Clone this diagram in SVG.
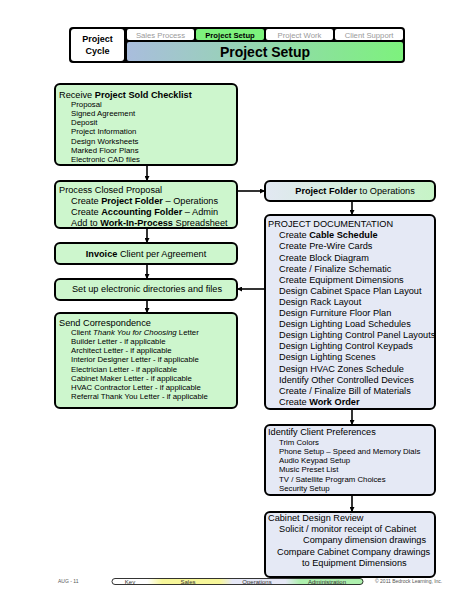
<svg xmlns="http://www.w3.org/2000/svg" width="474" height="613" viewBox="0 0 474 613">
<defs>
<linearGradient id="bannerG" x1="0" y1="0" x2="1" y2="0"><stop offset="0" stop-color="#a9bddd"/><stop offset="1" stop-color="#7df27d"/></linearGradient>
<linearGradient id="opsG" x1="0" y1="0" x2="1" y2="0"><stop offset="0" stop-color="#e2e8f2"/><stop offset="1" stop-color="#c6f4c6"/></linearGradient>
<linearGradient id="keyG" x1="0" y1="0" x2="1" y2="0">
<stop offset="0" stop-color="#ffffff"/><stop offset="0.14" stop-color="#ffffff"/>
<stop offset="0.2" stop-color="#f7f79a"/><stop offset="0.43" stop-color="#f7f79a"/>
<stop offset="0.48" stop-color="#e6e8f6"/><stop offset="0.69" stop-color="#e6e8f6"/>
<stop offset="0.75" stop-color="#aef0ae"/><stop offset="1" stop-color="#aef0ae"/>
</linearGradient>
<marker id="ah" viewBox="0 0 10 10" refX="10" refY="5" markerWidth="5" markerHeight="5" orient="auto" markerUnits="userSpaceOnUse">
<path d="M0,0 L10,5 L0,10 z" fill="#000"/>
</marker>
</defs>
<style>
text{font-family:"Liberation Sans",Arial,sans-serif;fill:#000}
.g{fill:#cdf6cd;stroke:#000;stroke-width:2}
.b{fill:#e5e9f5;stroke:#000;stroke-width:2}
.t{font-size:9.2px}
.s{font-size:7.8px}
.r{font-size:9.2px}
.bd{font-weight:bold}
.tab{font-size:7.7px;fill:#9a9a9a;text-anchor:middle}
.c{stroke:#000;stroke-width:1.6;fill:none;marker-end:url(#ah)}
.ft{font-size:5px;fill:#555}
.k{font-size:6px;text-anchor:middle;fill:#333}
</style>

<g id="header">
<rect x="69" y="27" width="336" height="36" rx="4" fill="#000"/>
<rect x="71" y="29" width="53" height="32" rx="3" fill="#fff"/>
<text x="97.5" y="42" font-size="9" font-weight="bold" text-anchor="middle">Project</text>
<text x="97.5" y="54" font-size="9" font-weight="bold" text-anchor="middle">Cycle</text>
<rect x="127" y="29" width="67" height="11" rx="2" fill="#fff"/>
<text x="160.5" y="37.5" class="tab">Sales Process</text>
<rect x="196" y="29" width="68" height="11" rx="2" fill="#7df27d"/>
<text x="230" y="37.5" class="tab" style="fill:#000;font-weight:bold">Project Setup</text>
<rect x="266" y="29" width="67" height="11" rx="2" fill="#fff"/>
<text x="299.5" y="37.5" class="tab">Project Work</text>
<rect x="335" y="29" width="68" height="11" rx="2" fill="#fff"/>
<text x="369" y="37.5" class="tab">Client Support</text>
<rect x="127" y="42" width="276" height="19" rx="2" fill="url(#bannerG)"/>
<text x="265" y="57" font-size="14" font-weight="bold" text-anchor="middle">Project Setup</text>
</g>

<g id="connectors">
<line x1="147" y1="165" x2="147" y2="181" class="c"/>
<line x1="147" y1="228" x2="147" y2="243" class="c"/>
<line x1="147" y1="264" x2="147" y2="279" class="c"/>
<line x1="147" y1="300" x2="147" y2="313" class="c"/>
<line x1="237" y1="191" x2="265" y2="191" class="c"/>
<line x1="352" y1="201" x2="352" y2="215" class="c"/>
<line x1="265" y1="289" x2="237" y2="289" class="c"/>
<line x1="352" y1="409" x2="352" y2="425" class="c"/>
<line x1="352" y1="495" x2="352" y2="512" class="c"/>
</g>

<g id="n-checklist">
<rect x="55" y="84" width="182" height="81" rx="5" class="g"/>
<text x="59" y="98.3" class="t">Receive <tspan class="bd">Project Sold Checklist</tspan></text>
<text x="71" y="106.8" class="s">Proposal</text>
<text x="71" y="116" class="s">Signed Agreement</text>
<text x="71" y="125.2" class="s">Deposit</text>
<text x="71" y="134.4" class="s">Project Information</text>
<text x="71" y="143.6" class="s">Design Worksheets</text>
<text x="71" y="152.8" class="s">Marked Floor Plans</text>
<text x="71" y="162" class="s">Electronic CAD files</text>
</g>

<g id="n-proposal">
<rect x="55" y="181" width="182" height="47" rx="5" class="g"/>
<text x="59" y="193.3" class="t">Process Closed Proposal</text>
<text x="71" y="204.3" class="t">Create <tspan class="bd">Project Folder</tspan> – Operations</text>
<text x="71" y="215.3" class="t">Create <tspan class="bd">Accounting Folder</tspan> – Admin</text>
<text x="71" y="226.3" class="t">Add to <tspan class="bd">Work-In-Process</tspan> Spreadsheet</text>
</g>

<g id="n-invoice">
<rect x="55" y="243" width="182" height="21" rx="5" class="g"/>
<text x="146" y="257.3" class="t" text-anchor="middle"><tspan class="bd">Invoice</tspan> Client per Agreement</text>
</g>

<g id="n-directories">
<rect x="55" y="279" width="182" height="21" rx="5" class="g"/>
<text x="147" y="291.6" class="t" text-anchor="middle">Set up electronic directories and files</text>
</g>

<g id="n-correspondence">
<rect x="55" y="313" width="182" height="95" rx="5" class="g"/>
<text x="59" y="326.3" class="t">Send Correspondence</text>
<text x="71" y="334.8" class="s">Client <tspan font-style="italic">Thank You for Choosing</tspan> Letter</text>
<text x="71" y="344" class="s">Builder Letter - if applicable</text>
<text x="71" y="353.2" class="s">Architect Letter - if applicable</text>
<text x="71" y="362.4" class="s">Interior Designer Letter - if applicable</text>
<text x="71" y="371.6" class="s">Electrician Letter - if applicable</text>
<text x="71" y="380.8" class="s">Cabinet Maker Letter - if applicable</text>
<text x="71" y="390" class="s">HVAC Contractor Letter - if applicable</text>
<text x="71" y="399.2" class="s">Referral Thank You Letter - if applicable</text>
</g>

<g id="n-folder-ops">
<rect x="265" y="181" width="170" height="20" rx="5" fill="url(#opsG)" stroke="#000" stroke-width="2"/>
<text x="355" y="194.3" class="t" text-anchor="middle"><tspan class="bd">Project Folder</tspan> to Operations</text>
</g>

<g id="n-documentation">
<rect x="265" y="215" width="170" height="194" rx="5" class="b"/>
<text x="268" y="227.3" class="r">PROJECT DOCUMENTATION</text>
<text x="279" y="238.3" class="r">Create <tspan class="bd">Cable Schedule</tspan></text>
<text x="279" y="249.4" class="r">Create Pre-Wire Cards</text>
<text x="279" y="260.5" class="r">Create Block Diagram</text>
<text x="279" y="271.6" class="r">Create / Finalize Schematic</text>
<text x="279" y="282.7" class="r">Create Equipment Dimensions</text>
<text x="279" y="293.8" class="r">Design Cabinet Space Plan Layout</text>
<text x="279" y="304.9" class="r">Design Rack Layout</text>
<text x="279" y="316" class="r">Design Furniture Floor Plan</text>
<text x="279" y="327.1" class="r">Design Lighting Load Schedules</text>
<text x="279" y="338.2" class="r">Design Lighting Control Panel Layouts</text>
<text x="279" y="349.3" class="r">Design Lighting Control Keypads</text>
<text x="279" y="360.4" class="r">Design Lighting Scenes</text>
<text x="279" y="371.5" class="r">Design HVAC Zones Schedule</text>
<text x="279" y="382.6" class="r">Identify Other Controlled Devices</text>
<text x="279" y="393.7" class="r">Create / Finalize Bill of Materials</text>
<text x="279" y="404.8" class="r">Create <tspan class="bd">Work Order</tspan></text>
</g>

<g id="n-preferences">
<rect x="265" y="425" width="170" height="70" rx="5" class="b"/>
<text x="268" y="435.3" class="t">Identify Client Preferences</text>
<text x="279" y="444.8" class="s">Trim Colors</text>
<text x="279" y="454" class="s">Phone Setup – Speed and Memory Dials</text>
<text x="279" y="463.2" class="s">Audio Keypad Setup</text>
<text x="279" y="472.4" class="s">Music Preset List</text>
<text x="279" y="481.6" class="s">TV / Satellite Program Choices</text>
<text x="279" y="490.8" class="s">Security Setup</text>
</g>

<g id="n-cabinet">
<rect x="265" y="512" width="170" height="65" rx="5" class="b"/>
<text x="268" y="521.3" class="r">Cabinet Design Review</text>
<text x="279" y="532.3" class="r">Solicit / monitor receipt of Cabinet</text>
<text x="303" y="543.4" class="r">Company dimension drawings</text>
<text x="277" y="554.5" class="r">Compare Cabinet Company drawings</text>
<text x="302" y="565.6" class="r">to Equipment Dimensions</text>
</g>

<g id="footer">
<text x="58" y="583" class="ft">AUG - 11</text>
<rect x="112" y="578.5" width="251" height="6" rx="3" fill="url(#keyG)" stroke="#000" stroke-width="0.8"/>
<text x="130" y="583.8" class="k">Key</text>
<text x="188" y="583.8" class="k">Sales</text>
<text x="257" y="583.8" class="k">Operations</text>
<text x="327" y="583.8" class="k">Administration</text>
<text x="375" y="583" class="ft">© 2011 Bedrock Learning, Inc.</text>
</g>
</svg>
